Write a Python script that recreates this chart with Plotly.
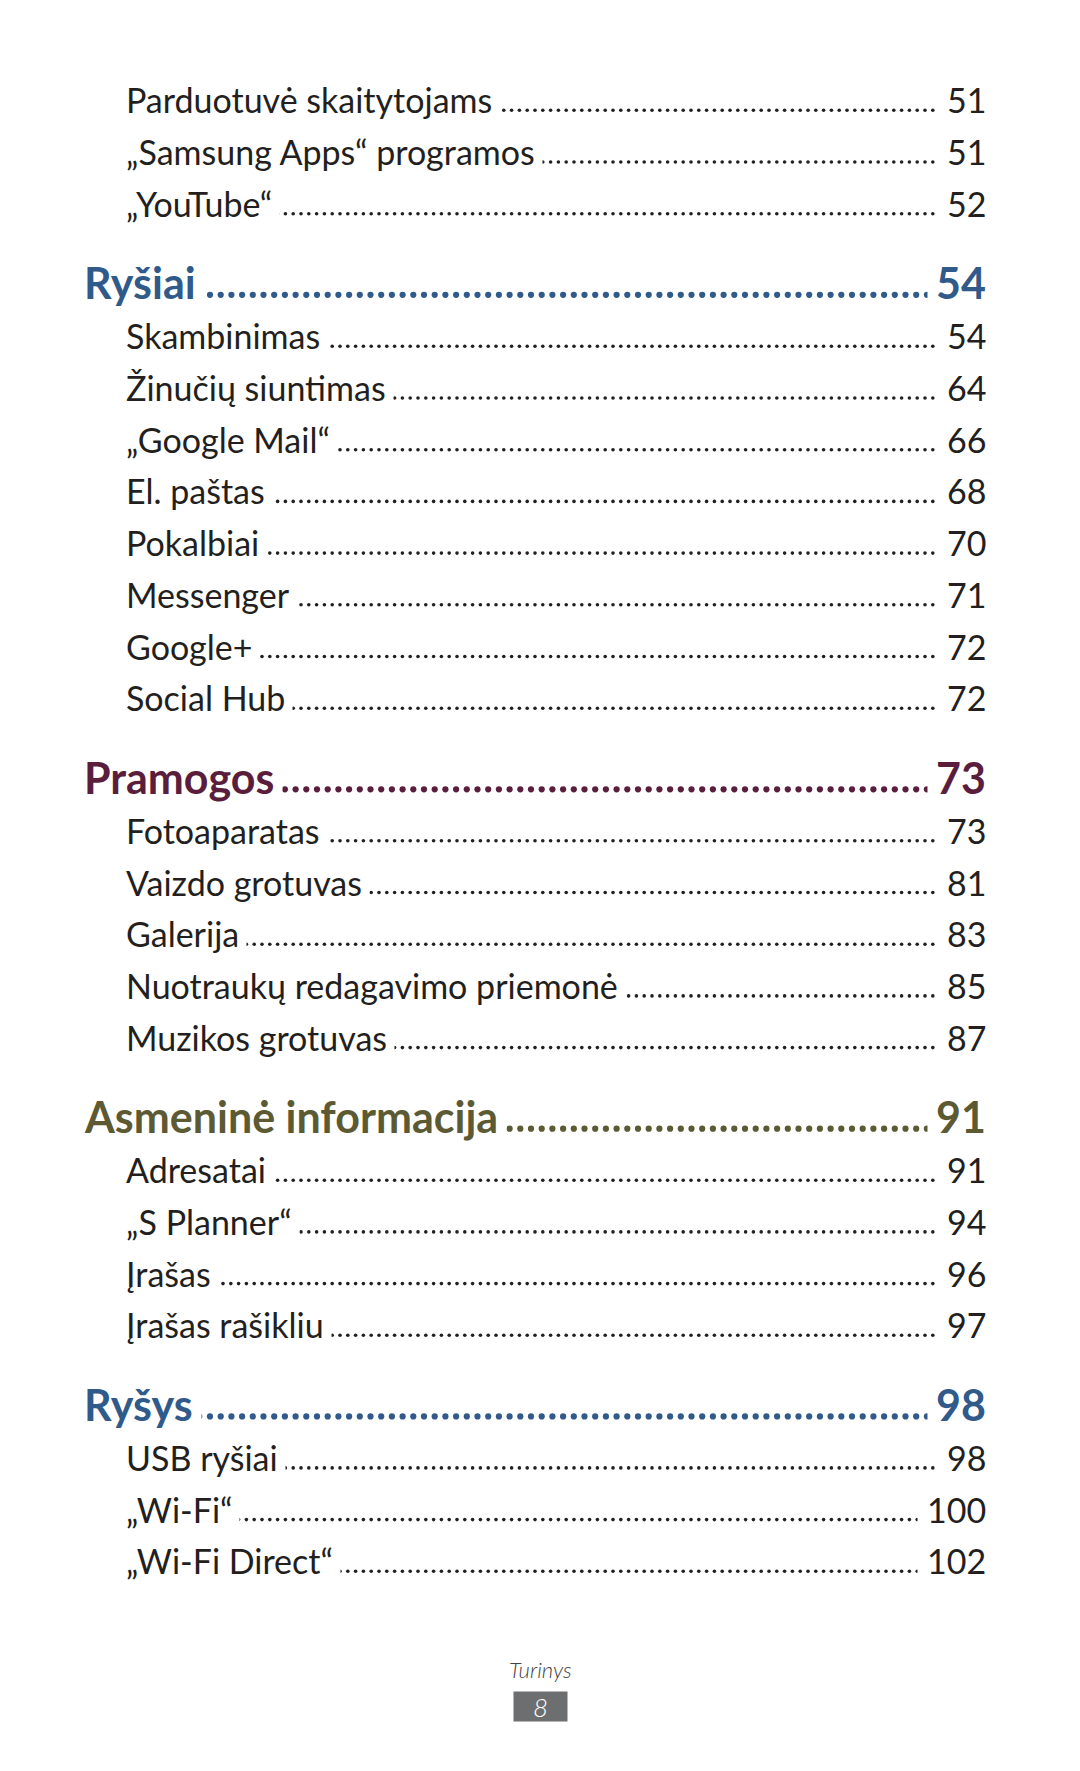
import numpy as np
import plotly.graph_objects as go

# ---------------- data ----------------
titles = [
    "Parduotuvė skaitytojams", "„Samsung Apps“ programos", "„YouTube“",
    "Ryšiai",
    "Skambinimas", "Žinučių siuntimas", "„Google Mail“", "El. paštas",
    "Pokalbiai", "Messenger", "Google+", "Social Hub",
    "Pramogos",
    "Fotoaparatas", "Vaizdo grotuvas", "Galerija",
    "Nuotraukų redagavimo priemonė", "Muzikos grotuvas",
    "Asmeninė informacija",
    "Adresatai", "„S Planner“", "Įrašas", "Įrašas rašikliu",
    "Ryšys",
    "USB ryšiai", "„Wi-Fi“", "„Wi-Fi Direct“",
]
pages = [51, 51, 52,
         54,
         54, 64, 66, 68, 70, 71, 72, 72,
         73,
         73, 81, 83, 85, 87,
         91,
         91, 94, 96, 97,
         98,
         98, 100, 102]
levels = [1, 1, 1,
          0,
          1, 1, 1, 1, 1, 1, 1, 1,
          0,
          1, 1, 1, 1, 1,
          0,
          1, 1, 1, 1,
          0,
          1, 1, 1]
heading_colors = ["#2f5a8a", "#5a1e3c", "#5c5a33", "#2f5a8a"]
footer_label = "Turinys"
page_number = "8"

# ---------------- layout constants ----------------
W, H = 1080, 1771
X_ITEM, X_HEAD, X_NUM = 125, 83, 987
Y0 = 99.8
PITCH = 51.7
GAP_TO_HEAD = 79.6
GAP_HEAD_ITEM = 53.0
TEXT_COL = "#231f20"
FONT = "Lato"
ITEM_SIZE = 34
HEAD_SIZE = 43
PAD_ITEM_T, PAD_ITEM_N = 7, 9
PAD_HEAD_T, PAD_HEAD_N = 8, 8

# compute row positions
ys = []
y = Y0
for i, lv in enumerate(levels):
    if i > 0:
        prev = levels[i - 1]
        if lv == 0:
            y += GAP_TO_HEAD
        elif prev == 0:
            y += GAP_HEAD_ITEM
        else:
            y += PITCH
    ys.append(y)

fig = go.Figure()

# dot leaders
hx, hy, hc = [], [], []
ix, iy = [], []
h_idx = 0
for t, p, lv, yy in zip(titles, pages, levels, ys):
    if lv == 0:
        xs = np.arange(X_HEAD + 20, X_NUM - 6, 10.7)
        hx.extend(xs); hy.extend([yy + 12.0] * len(xs))
        hc.extend([heading_colors[h_idx]] * len(xs))
        h_idx += 1
    else:
        xs = np.arange(X_ITEM + 20, X_NUM - 8, 7.8)
        ix.extend(xs); iy.extend([yy + 10.5] * len(xs))

fig.add_trace(go.Scatter(x=ix, y=iy, mode="markers",
                         marker=dict(size=3.6, color=TEXT_COL, line=dict(width=0)),
                         hoverinfo="skip", showlegend=False))
fig.add_trace(go.Scatter(x=hx, y=hy, mode="markers",
                         marker=dict(size=6.2, color=hc, line=dict(width=0)),
                         hoverinfo="skip", showlegend=False))

# texts
h_idx = 0
for t, p, lv, yy in zip(titles, pages, levels, ys):
    if lv == 0:
        col = heading_colors[h_idx]
        h_idx += 1
        f = dict(family=FONT, size=HEAD_SIZE, color=col, weight=700)
        fig.add_annotation(x=X_HEAD - PAD_HEAD_T, y=yy, text=t, showarrow=False,
                           xanchor="left", yanchor="middle", font=f,
                           bgcolor="white", borderpad=PAD_HEAD_T, xref="x", yref="y")
        fig.add_annotation(x=X_NUM + PAD_HEAD_N, y=yy, text=str(p), showarrow=False,
                           xanchor="right", yanchor="middle", font=f,
                           bgcolor="white", borderpad=PAD_HEAD_N, xref="x", yref="y")
    else:
        f = dict(family=FONT, size=ITEM_SIZE, color=TEXT_COL)
        fig.add_annotation(x=X_ITEM - PAD_ITEM_T, y=yy, text=t, showarrow=False,
                           xanchor="left", yanchor="middle", font=f,
                           bgcolor="white", borderpad=PAD_ITEM_T, xref="x", yref="y")
        fig.add_annotation(x=X_NUM + PAD_ITEM_N, y=yy, text=str(p), showarrow=False,
                           xanchor="right", yanchor="middle", font=f,
                           bgcolor="white", borderpad=PAD_ITEM_N, xref="x", yref="y")

# footer
fig.add_annotation(x=W / 2, y=1669, text=footer_label, showarrow=False,
                   xanchor="center", yanchor="middle",
                   font=dict(family=FONT, size=22, color="#444444", style="italic", weight=300))
fig.add_annotation(x=W / 2, y=1706, text=page_number, showarrow=False,
                   xanchor="center", yanchor="middle", width=53, height=29,
                   bgcolor="#6d6e70", borderpad=0,
                   font=dict(family=FONT, size=26, color="white", style="italic", weight=300))

fig.update_layout(
    width=W, height=H, margin=dict(l=0, r=0, t=0, b=0),
    paper_bgcolor="white", plot_bgcolor="white",
    xaxis=dict(range=[0, W], visible=False, fixedrange=True),
    yaxis=dict(range=[H, 0], visible=False, fixedrange=True),
    showlegend=False,
)

fig.write_html("out.html", config={"displayModeBar": False},
               post_script="document.body.style.margin='0';")
